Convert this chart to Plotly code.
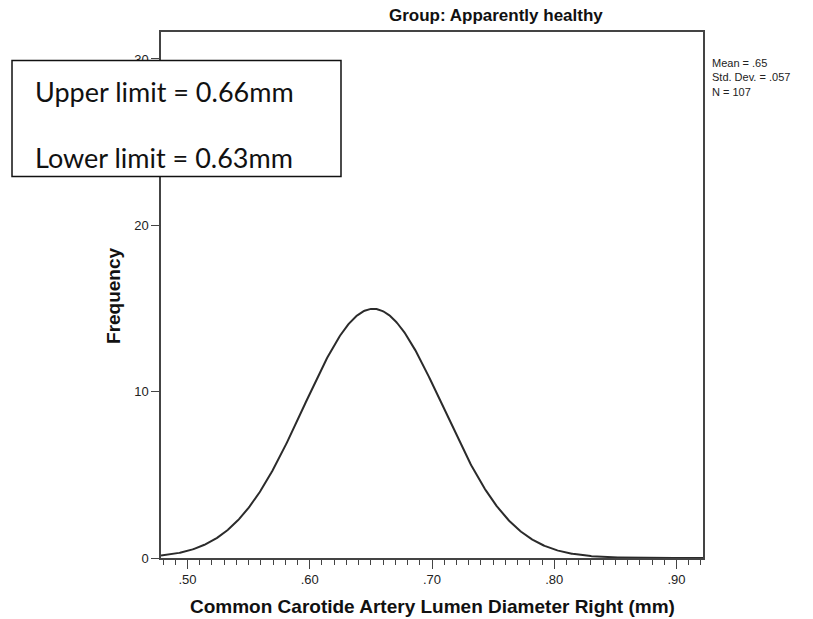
import numpy as np
import plotly.graph_objects as go

# ---- data ----
group_title = "Group: Apparently healthy"
x_title = "Common Carotide Artery Lumen Diameter Right (mm)"
y_title = "Frequency"
mean_value = 0.652      # "Mean = .65"
std_dev = 0.057         # "Std. Dev. = .057"
n_obs = 107             # "N = 107"
bin_width = 0.02        # histogram bin width implied by curve height
stats_lines = ["Mean = .65", "Std. Dev. = .057", "N = 107"]
limit_lines = ["Upper limit = 0.66mm", "Lower limit = 0.63mm"]
x_tickvals = [0.50, 0.60, 0.70, 0.80, 0.90]
x_ticktext = [".50", ".60", ".70", ".80", ".90"]
y_tickvals = [0, 10, 20, 30]
y_ticktext = ["0", "10", "20", "30"]
x_range = [0.4783, 0.9217]
y_range = [0, 31.62]

# fitted normal curve (SPSS style) from displayed statistics
xs = np.linspace(x_range[0], x_range[1], 600)
ys = n_obs * bin_width / (std_dev * np.sqrt(2 * np.pi)) * np.exp(-0.5 * ((xs - mean_value) / std_dev) ** 2)

AX = "#444444"
FONT = "Liberation Sans, Arial, sans-serif"

fig = go.Figure()
fig.add_trace(go.Scatter(x=xs, y=ys, mode="lines",
                         line=dict(color="#2b2b2b", width=2),
                         hoverinfo="skip", showlegend=False))

fig.update_layout(
    width=813, height=619,
    margin=dict(l=161, r=110, t=32, b=61, pad=0),
    paper_bgcolor="white", plot_bgcolor="white",
    showlegend=False,
    font=dict(family=FONT, color="#222222", size=13),
)
fig.update_xaxes(range=x_range, showgrid=False, zeroline=False,
                 showline=True, linecolor=AX, linewidth=1.5, mirror=True,
                 tickmode="array", tickvals=x_tickvals, ticktext=x_ticktext,
                 ticks="outside", ticklen=9, tickwidth=1.3, tickcolor=AX,
                 tickfont=dict(family=FONT, size=13, color="#222222"),
                 minor=dict(tickmode="linear", tick0=0.48, dtick=0.01,
                            ticks="outside", ticklen=5, tickwidth=1.2, tickcolor=AX))
fig.update_yaxes(range=y_range, showgrid=False, zeroline=False,
                 showline=True, linecolor=AX, linewidth=1.5, mirror=True,
                 tickmode="array", tickvals=y_tickvals, ticktext=y_ticktext,
                 ticks="outside", ticklen=8, tickwidth=1.3, tickcolor=AX,
                 tickfont=dict(family=FONT, size=13, color="#222222"))

# text box with limits
fig.add_shape(type="rect", xref="paper", yref="paper",
              x0=-0.2749, x1=0.3321, y0=0.7253, y1=0.9458,
              line=dict(color="#111111", width=1.5), fillcolor="white", layer="above")
for txt, yy in zip(limit_lines, [0.8869, 0.7614]):
    fig.add_annotation(text=txt, xref="paper", yref="paper", x=-0.2362, y=yy,
                       xanchor="left", yanchor="middle", showarrow=False,
                       font=dict(family="Lato, Carlito, Calibri, sans-serif", size=27, color="#111111"))

# group title
fig.add_annotation(text="<b>" + group_title + "</b>", xref="paper", yref="paper",
                   x=0.417, y=1.031, xanchor="left", yanchor="middle", showarrow=False,
                   font=dict(family=FONT, size=17, color="#111111"))

# stats block (single multi-line text)
fig.add_annotation(text="<br>".join(stats_lines), xref="paper", yref="paper",
                   x=1.013, y=0.9144, xanchor="left", yanchor="middle", align="left",
                   showarrow=False, font=dict(family=FONT, size=11, color="#222222"))

# axis titles
fig.add_annotation(text="<b>" + x_title + "</b>", xref="paper", yref="paper",
                   x=0.5, y=-0.0922, xanchor="center", yanchor="middle", showarrow=False,
                   font=dict(family=FONT, size=19, color="#111111"))
fig.add_annotation(text="<b>" + y_title + "</b>", xref="paper", yref="paper",
                   x=-0.0886, y=0.5, xanchor="center", yanchor="middle", showarrow=False,
                   textangle=-90, font=dict(family=FONT, size=19, color="#111111"))

fig.write_html("out.html")
